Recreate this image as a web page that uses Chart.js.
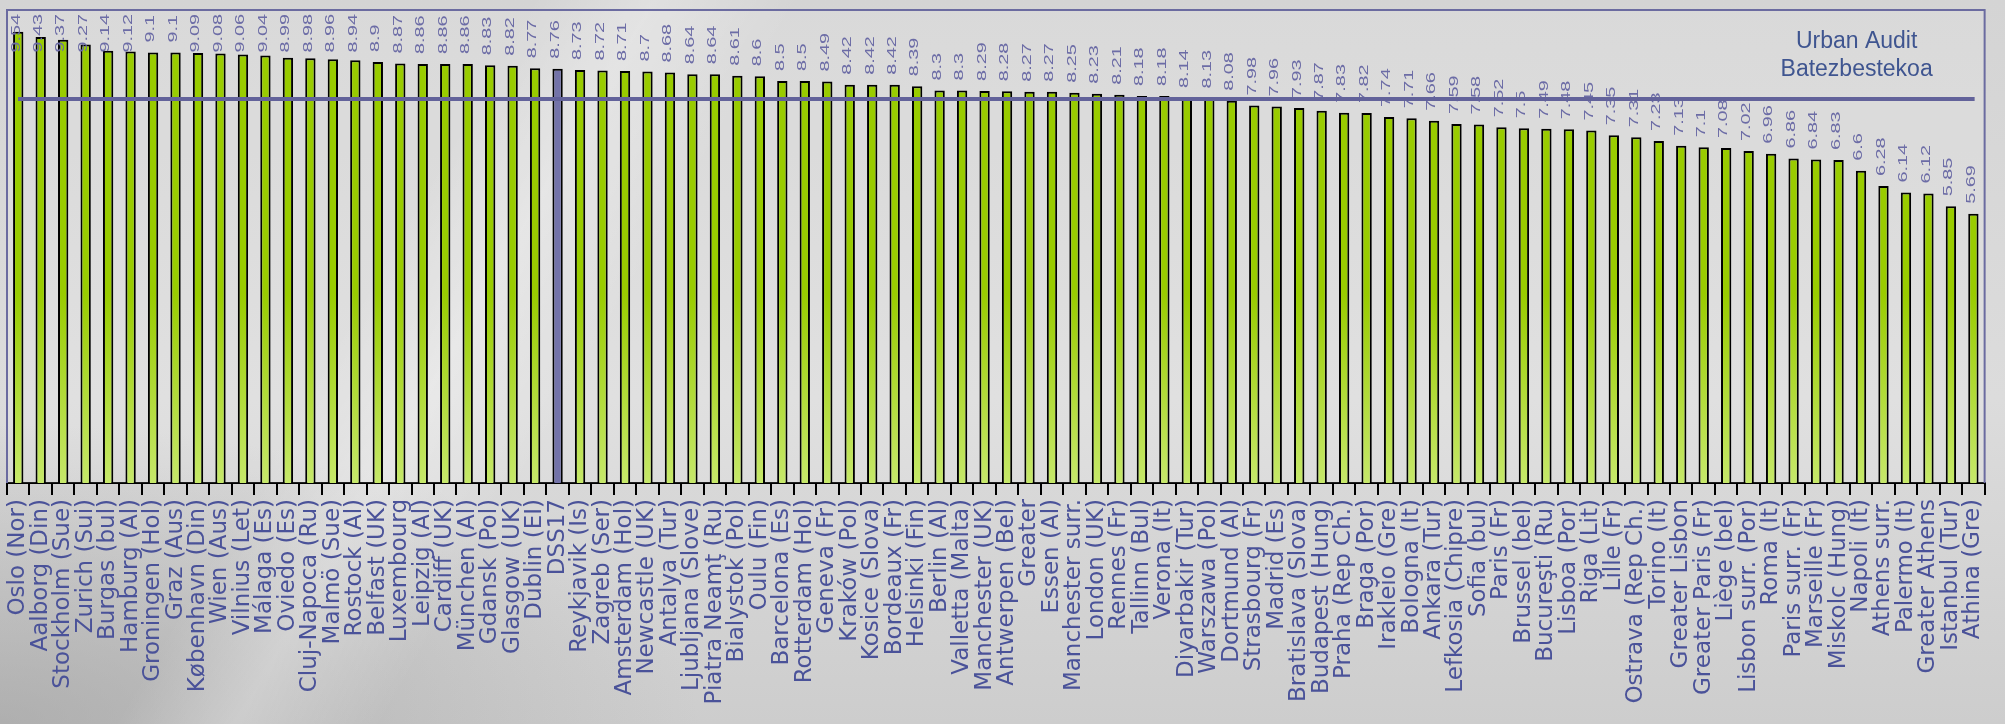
<!DOCTYPE html>
<html>
<head>
<meta charset="utf-8">
<script src="https://cdn.jsdelivr.net/npm/chart.js@4/dist/chart.umd.min.js"></script>
<style>
  html, body { margin: 0; padding: 0; }
  body {
    width: 2005px; height: 724px; overflow: hidden;
    background:
      linear-gradient(120deg, rgba(255,255,255,0) 0%, rgba(255,255,255,0) 22%, rgba(255,255,255,0.28) 27%, rgba(255,255,255,0) 33%, rgba(255,255,255,0) 100%),
      radial-gradient(ellipse 700px 300px at 0% 100%, rgba(150,150,150,0.55), rgba(150,150,150,0) 100%),
      linear-gradient(180deg, #d4d4d4 0%, #dcdcdc 55%, #cdcdcd 100%);
  }
  #wrap { position: relative; width: 2005px; height: 724px; }
</style>
</head>
<body>
<div id="wrap"><canvas id="myChart" width="2005" height="724"></canvas></div>
<script>
// --- Data ---
const cities = [
  'Oslo (Nor)', 'Aalborg (Din)', 'Stockholm (Sue)', 'Zurich (Sui)', 'Burgas (bul)',
  'Hamburg (Al)', 'Groningen (Hol)', 'Graz (Aus)', 'København (Din)', 'Wien (Aus)',
  'Vilnius (Let)', 'Málaga (Es)', 'Oviedo (Es)', 'Cluj-Napoca (Ru)', 'Malmö (Sue)',
  'Rostock (Al)', 'Belfast (UK)', 'Luxembourg', 'Leipzig (Al)', 'Cardiff (UK)',
  'München (Al)', 'Gdansk (Pol)', 'Glasgow (UK)', 'Dublin (EI)', 'DSS17',
  'Reykjavik (Is)', 'Zagreb (Ser)', 'Amsterdam (Hol)', 'Newcastle (UK)', 'Antalya (Tur)',
  'Ljubljana (Slove)', 'Piatra Neamţ (Ru)', 'Bialystok (Pol)', 'Oulu (Fin)', 'Barcelona (Es)',
  'Rotterdam (Hol)', 'Geneva (Fr)', 'Kraków (Pol)', 'Kosice (Slova)', 'Bordeaux (Fr)',
  'Helsinki (Fin)', 'Berlin (Al)', 'Valletta (Malta)', 'Manchester (UK)', 'Antwerpen (Bel)',
  'Greater', 'Essen (Al)', 'Manchester surr.', 'London (UK)', 'Rennes (Fr)',
  'Tallinn (Bul)', 'Verona (It)', 'Diyarbakir (Tur)', 'Warszawa (Pol)', 'Dortmund (Al)',
  'Strasbourg (Fr)', 'Madrid (Es)', 'Bratislava (Slova)', 'Budapest (Hung)', 'Praha (Rep Ch.)',
  'Braga (Por)', 'Irakleio (Gre)', 'Bologna (It)', 'Ankara (Tur)', 'Lefkosia (Chipre)',
  'Sofia (bul)', 'Paris (Fr)', 'Brussel (bel)', 'Bucureşti (Ru)', 'Lisboa (Por)',
  'Riga (Lit)', 'Lille (Fr)', 'Ostrava (Rep Ch.)', 'Torino (It)', 'Greater Lisbon',
  'Greater Paris (Fr)', 'Liège (bel)', 'Lisbon surr. (Por)', 'Roma (It)', 'Paris surr. (Fr)',
  'Marseille (Fr)', 'Miskolc (Hung)', 'Napoli (It)', 'Athens surr.', 'Palermo (It)',
  'Greater Athens', 'Istanbul (Tur)', 'Athina (Gre)'
];
const scores = [
  9.54, 9.43, 9.37, 9.27, 9.14, 9.12, 9.1, 9.1, 9.09, 9.08,
  9.06, 9.04, 8.99, 8.98, 8.96, 8.94, 8.9, 8.87, 8.86, 8.86,
  8.86, 8.83, 8.82, 8.77, 8.76, 8.73, 8.72, 8.71, 8.7, 8.68,
  8.64, 8.64, 8.61, 8.6, 8.5, 8.5, 8.49, 8.42, 8.42, 8.42,
  8.39, 8.3, 8.3, 8.29, 8.28, 8.27, 8.27, 8.25, 8.23, 8.21,
  8.18, 8.18, 8.14, 8.13, 8.08, 7.98, 7.96, 7.93, 7.87, 7.83,
  7.82, 7.74, 7.71, 7.66, 7.59, 7.58, 7.52, 7.5, 7.49, 7.48,
  7.45, 7.35, 7.31, 7.23, 7.13, 7.1, 7.08, 7.02, 6.96, 6.86,
  6.84, 6.83, 6.6, 6.28, 6.14, 6.12, 5.85, 5.69
];
const highlightCity = 'DSS17';
const urbanAuditAvg = 8.12;
const avgLegend = ['Urban Audit', 'Batezbestekoa'];
const yRange = [0, 10];

// --- Colours ---
const barGreen = '#99cc00';
const barGreenLight = '#c6e86a';
const barPurple = '#7373a9';
const frameColor = '#6b6ba0';
const valueColor = '#6c6ca6';

// --- Plugins ---
const framePlugin = {
  id: 'frame',
  beforeDatasetsDraw(chart) {
    const { ctx, chartArea: a } = chart;
    ctx.save();
    ctx.fillStyle = 'rgba(255,255,255,0.12)';
    ctx.fillRect(a.left, a.top, a.right - a.left, a.bottom - a.top);
    ctx.strokeStyle = frameColor;
    ctx.lineWidth = 2;
    ctx.beginPath();
    ctx.moveTo(a.left, a.bottom);
    ctx.lineTo(a.left, a.top);
    ctx.lineTo(a.right, a.top);
    ctx.lineTo(a.right, a.bottom);
    ctx.stroke();
    ctx.restore();
  }
};

// value labels are stretched along the text direction, like the source picture
const labelStretch = 1.65;

const valueLabelPlugin = {
  id: 'valueLabels',
  afterDatasetsDraw(chart) {
    const { ctx, chartArea: a } = chart;
    const meta = chart.getDatasetMeta(0);
    ctx.save();
    ctx.font = '12px "Liberation Sans"';
    ctx.fillStyle = valueColor;
    ctx.textAlign = 'left';
    ctx.textBaseline = 'middle';
    meta.data.forEach((bar, i) => {
      const txt = String(scores[i]);
      const w = ctx.measureText(txt).width * labelStretch;
      let yStart = bar.y - 10;
      if (yStart - w < a.top + 4) yStart = a.top + 4 + w;
      ctx.save();
      ctx.translate(bar.x - 2, yStart);
      ctx.rotate(-Math.PI / 2);
      ctx.scale(labelStretch, 1);
      ctx.fillText(txt, 0, 0);
      ctx.restore();
    });

    // average line, drawn over bars and labels
    const y = chart.scales.y.getPixelForValue(urbanAuditAvg);
    ctx.strokeStyle = '#62629a';
    ctx.lineWidth = 4;
    ctx.beginPath();
    ctx.moveTo(a.left + 11, y);
    ctx.lineTo(a.right - 10, y);
    ctx.stroke();

    ctx.fillStyle = '#3f5590';
    ctx.font = '23px "Liberation Sans"';
    ctx.textAlign = 'center';
    ctx.textBaseline = 'alphabetic';
    ctx.fillText(avgLegend[0], a.right - 128, a.top + 38);
    ctx.fillText(avgLegend[1], a.right - 128, a.top + 66);
    ctx.restore();
  }
};

// --- Chart ---
const ctx = document.getElementById('myChart').getContext('2d');
const myChart = new Chart(ctx, {
  type: 'bar',
  data: {
    labels: cities,
    datasets: [{
      label: 'Score',
      data: scores,
      backgroundColor: function (c) {
        if (cities[c.dataIndex] === highlightCity) return barPurple;
        const area = c.chart.chartArea;
        if (!area) return barGreen;
        const g = c.chart.ctx.createLinearGradient(0, area.top, 0, area.bottom);
        g.addColorStop(0, barGreen);
        g.addColorStop(0.6, barGreen);
        g.addColorStop(1, barGreenLight);
        return g;
      },
      borderColor: '#000',
      borderWidth: 2,
      barPercentage: 0.46,
      categoryPercentage: 1
    }]
  },
  options: {
    responsive: false,
    animation: false,
    layout: { padding: { top: 10, left: 7, right: 2, bottom: 0 } },
    scales: {
      x: {
        grid: { offset: true, drawOnChartArea: false, color: '#000', lineWidth: 2, tickLength: 12 },
        border: { color: '#000', width: 2 },
        ticks: {
          autoSkip: false,
          minRotation: 90,
          maxRotation: 90,
          padding: 4,
          color: '#4a5299',
          font: { family: 'DejaVu Sans', size: 23 }
        },
        afterFit: function (scale) { scale.height = 241; }
      },
      y: {
        display: false,
        min: yRange[0],
        max: yRange[1]
      }
    },
    plugins: {
      legend: { display: false },
      tooltip: { enabled: false }
    }
  },
  plugins: [framePlugin, valueLabelPlugin]
});
</script>
</body>
</html>
